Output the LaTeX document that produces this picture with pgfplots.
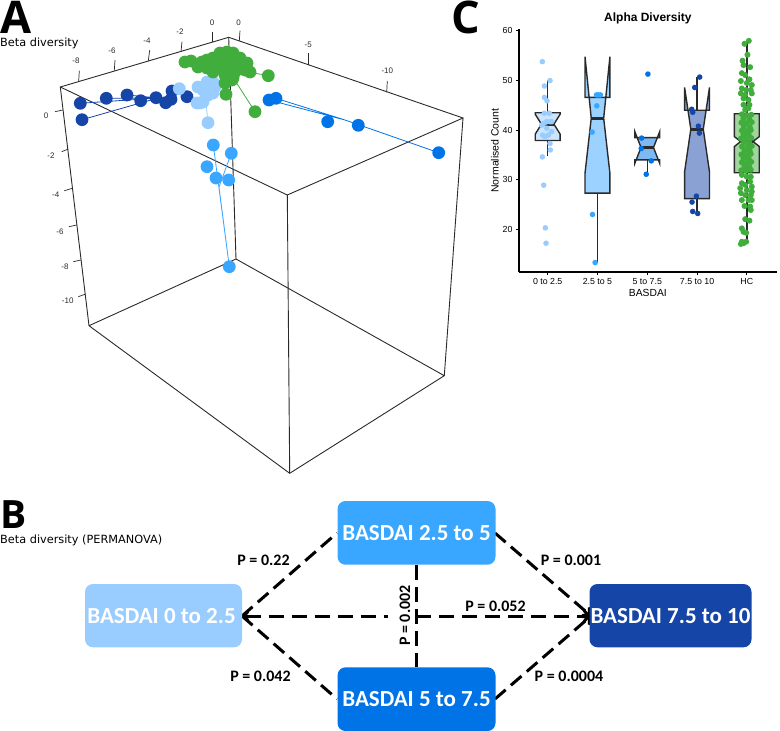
\documentclass[border=0pt]{standalone}
\usepackage{fontspec}
\setmainfont{Liberation Sans}
\newfontfamily\dvfont{DejaVu Sans}
\newfontfamily\calfont{Carlito}
\newfontfamily\opfont{Open Sans}
\usepackage{pgfplots}
\pgfplotsset{compat=1.18}
\usetikzlibrary{arrows.meta}
\definecolor{g1}{HTML}{99CCFF}
\definecolor{g2}{HTML}{39A6FF}
\definecolor{g3}{HTML}{0073E6}
\definecolor{g4}{HTML}{1645A8}
\definecolor{hc}{HTML}{41AD3C}
\definecolor{ln}{HTML}{2A2A2A}
\newcommand{\fs}[1]{\fontsize{#1}{#1}\selectfont}
\pgfplotsset{pts/.style={only marks,mark=*,mark options={solid,fill=#1,draw opacity=0}}}
% panel A points and lines are in picture pixels (y down), panel C in data units
\pgfplotstableread{
x y
80.3 103.3
82 119.7
106.3 98.3
127 95
140.7 100.7
156 97.7
165.7 102.7
171 99.3
172 91
187 96.7
}\adark
\pgfplotstableread{
x y
179.3 88.7
198 87
207 82
213 82
203 90
213 93
197 103
200 103
203 102
208 95
215 87
208 122.7
}\alight
\pgfplotstableread{
x y
213.3 145
231.3 153.3
207 166.7
216 178
228.7 180
229.3 266.7
}\amid
\pgfplotstableread{
x y
269 100
276 98.3
327.7 121.7
358.3 125.3
438.7 152.7
}\ablue
\pgfplotstableread{
x y
185 62
191 61
202 62
198 67
207 68
213 58
220 53
227 52
233 53
240 58
247 63
250 72
242 68
230 65
220 68
213 72
225 75
233 78
225 83
232 80
217 65
207 60
223 62
237 63
245 70
227 60
235 72
205 64
218 58
268.3 75.7
255 111.7
226 94.3
}\agreen
\pgfplotstableread{
x y
-0.107 53.8
0.047 50.0
-0.067 48.9
-0.067 46.6
-0.013 45.9
0.033 43.4
-0.067 43.4
-0.107 34.6
0.053 36.0
-0.08 28.9
-0.047 20.3
-0.033 17.2
0.047 37.3
0.013 39.0
-0.053 38.7
-0.1 39.0
-0.02 41.7
0.047 41.7
-0.073 41.4
-0.12 41.0
0.08 41.7
0.08 39.7
-0.02 40.4
}\cgone
\pgfplotstableread{
x y
0.98 47.1
1.06 47.1
1.02 47.1
0.987 44.9
0.893 39.6
0.9 23
0.953 13.3
}\cgtwo
\pgfplotstableread{
x y
2.013 51.3
1.887 38.4
2.08 33.8
1.98 31.1
1.88 36.3
}\cgthree
\pgfplotstableread{
x y
3.053 50.7
2.953 48.6
2.893 44.2
2.913 43.6
3.027 40.8
3.047 39.4
2.987 26.7
2.9 25.5
2.913 23.6
3.013 23.2
}\cgfour
\pgfplotstableread{
x y
4.04 58.0
3.953 57.4
4.013 55.2
3.913 54
3.933 53.1
4.067 52.7
3.9 51.5
3.967 51.1
4.053 50.25
3.88 49.9
4 49.5
4.1 49.1
3.9 48.4
3.987 48.1
4.08 48.1
3.88 47.4
3.967 47.1
4.1 47.4
3.933 46.4
4.033 46.1
3.933 45.1
4.053 45.1
3.967 44.1
4.033 44.4
3.9 43.2
4 43
4.09 43.1
3.93 42.3
4.05 42.2
3.89 41.5
3.99 41.4
4.1 41.6
3.94 40.7
4.06 40.6
3.9 39.9
4 39.8
4.08 40
3.93 39.1
4.04 39
3.88 38.3
3.98 38.2
4.09 38.4
3.94 37.5
4.05 37.4
3.9 36.7
4.01 36.6
4.1 36.8
3.95 35.9
4.06 35.8
3.89 35.1
3.99 35
4.08 35.2
3.93 34.3
4.04 34.2
3.9 33.5
4 33.4
4.09 33.6
3.95 32.7
4.05 32.6
3.89 31.9
3.99 31.8
4.08 32
3.9 30.97
4 30.6
4.08 30.6
4.067 29.6
3.9 29.3
3.967 28.95
4.1 28.6
3.867 28.3
4 27.9
4.1 27.6
3.88 27.3
3.967 26.9
4.08 26.9
3.9 25.9
4.033 25.9
4.1 25.9
3.953 24.7
4.067 24.6
4.08 23.9
3.967 22.05
4.053 21.75
3.9 20.2
3.933 19.5
3.987 19.3
3.9 17.5
3.88 17.05
3.987 17.5
3.933 17.2
}\cghc
\begin{document}
\begin{tikzpicture}
\useasboundingbox (0,0) rectangle (780pt,731pt);
\begin{axis}[
  at={(0pt,0pt)},anchor=south west,
  width=780pt,height=731pt,scale only axis,
  hide axis,clip=false,
  xmin=0,xmax=780,ymin=0,ymax=731,y dir=reverse,
]
% A: frame
\addplot[no marks,draw=ln,line width=.9pt] coordinates {(60.3,87) (228.7,37.3) (463,118) (287.3,195) (60.3,87) (89,325.7) (289.7,473.3) (444.3,375.7) (236,259) (89,325.7)};
\addplot[no marks,draw=ln,line width=.9pt] coordinates {(228.7,37.3) (236,259)};
\addplot[no marks,draw=ln,line width=.9pt] coordinates {(287.3,195) (289.7,473.3)};
\addplot[no marks,draw=ln,line width=.9pt] coordinates {(463,118) (444.3,375.7)};
% A: axis ticks
\foreach \a/\b/\c/\d in {78.7/81/79.3/70.7,114.3/70.7/115/60,148.3/61/149.7/50,181/51.7/182/41.7,212.7/42.3/212.7/31.7,239.3/41/240/30.7,308.3/65/308.3/53.3,386.7/92.3/387.3/81,62.7/110/55/111.7,68.3/149/61.7/151.7,72.3/188.3/64.3/190.7,76.7/225/69/226.7,81/260/73.3/261.7,85/294.3/78.3/296.7}{
  \edef\temp{\noexpand\addplot[no marks,draw=ln,line width=.7pt] coordinates {(\a,\b) (\c,\d)};}
  \temp
}
\foreach \a/\b/\t in {76/61/-8,112/51/-6,147/41/-4,180/32/-2,212/23/0,238.7/22.3/0,308.3/45/-5,387.3/71/-10,46/116/0,51/156/-2,55.7/194.3/-4,60/231.7/-6,65/266.7/-8,67.7/300.7/-10}{
  \edef\temp{\noexpand\node[text=ln,font=\noexpand\fs{8}] at (axis cs:\a,\b) {\t};}
  \temp
}
% A: lines to the group centres
\addplot[no marks,draw=g4,line width=.8pt] coordinates {(80.3,103.3) (158,98) (82,119.7) (158,98) (106.3,98.3) (158,98) (127,95) (158,98) (80.3,103.3)};
\addplot[no marks,draw=g1,line width=.8pt] coordinates {(205,92) (208,122.7)};
\addplot[no marks,draw=g2,line width=.8pt] coordinates {(213.3,145) (229.3,266.7) (219,187) (231.3,153.3)};
\addplot[no marks,draw=g3,line width=.8pt] coordinates {(269,100) (345,120) (276,98.3) (345,120) (438.7,152.7)};
\addplot[no marks,draw=hc,line width=.8pt] coordinates {(268.3,75.7) (227,68) (255,111.7)};
% A: points
\addplot[pts=g4,mark size=6.4pt] table {\adark};
\addplot[pts=g1,mark size=6.4pt] table {\alight};
\addplot[pts=g2,mark size=6.4pt] table {\amid};
\addplot[pts=g3,mark size=6.4pt] table {\ablue};
\addplot[pts=hc,mark size=6.4pt] table {\agreen};
% panel letters and captions
\node[anchor=base west,inner sep=0pt,font=\opfont\bfseries\fs{45}] at (axis cs:0,33) {A};
\node[anchor=base west,inner sep=0pt,font=\opfont\bfseries\fs{39}] at (axis cs:0,528) {B};
\node[anchor=base west,inner sep=0pt,font=\opfont\bfseries\fs{45}] at (axis cs:451,33) {C};
\node[anchor=west,inner sep=0pt,font=\dvfont\fs{11.3}] at (axis cs:0,43) {Beta diversity};
\node[anchor=west,inner sep=0pt,font=\dvfont\fs{11.3}] at (axis cs:0,540) {Beta diversity (PERMANOVA)};
% B: dashed links
\addplot[no marks,draw=black,line width=3pt,dash pattern=on 14pt off 7pt] coordinates {(242,616) (337,533)};
\addplot[no marks,draw=black,line width=3pt,dash pattern=on 14pt off 7pt] coordinates {(242,616) (337,699)};
\addplot[no marks,draw=black,line width=3pt,dash pattern=on 14pt off 7pt,-{Straight Barb[length=5pt,width=11pt]}] coordinates {(495,533) (591,616)};
\addplot[no marks,draw=black,line width=3pt,dash pattern=on 14pt off 7pt,-{Straight Barb[length=5pt,width=11pt]}] coordinates {(495,699) (591,616)};
\addplot[no marks,draw=black,line width=3pt,dash pattern=on 15pt off 8pt,{Straight Barb[length=4pt,width=9pt]}-] coordinates {(242,616) (388,616)};
\addplot[no marks,draw=black,line width=3pt,dash pattern=on 15pt off 8pt,-{Straight Barb[length=5pt,width=11pt]}] coordinates {(416,616) (591,616)};
\addplot[no marks,draw=black,line width=3pt,dash pattern=on 15pt off 7pt] coordinates {(416,565) (416,667)};
\node[rotate=90,inner sep=1pt,font=\calfont\bfseries\fs{16}] at (axis cs:405,615.5) {P = 0.002};
% B: boxes
\fill[g2,rounded corners=8pt] (axis cs:337.5,501) rectangle (axis cs:495.5,564.7);
\fill[g1,rounded corners=8pt] (axis cs:85,584) rectangle (axis cs:242,647.3);
\fill[g4,rounded corners=8pt] (axis cs:589.5,584) rectangle (axis cs:751.5,647.3);
\fill[g3,rounded corners=8pt] (axis cs:337.5,667.3) rectangle (axis cs:495.5,731);
\node[text=white,font=\calfont\bfseries\fs{23}] at (axis cs:416.5,533) {BASDAI 2.5 to 5};
\node[text=white,font=\calfont\bfseries\fs{23}] at (axis cs:161.5,616) {BASDAI 0 to 2.5};
\node[text=white,font=\calfont\bfseries\fs{23}] at (axis cs:670.5,616) {BASDAI 7.5 to 10};
\node[text=white,font=\calfont\bfseries\fs{23}] at (axis cs:416.5,699) {BASDAI 5 to 7.5};
% B: P values
\node[font=\calfont\bfseries\fs{16}] at (axis cs:263.5,560.7) {P = 0.22};
\node[font=\calfont\bfseries\fs{16}] at (axis cs:571,560.7) {P = 0.001};
\node[font=\calfont\bfseries\fs{16}] at (axis cs:495.5,606.7) {P = 0.052};
\node[font=\calfont\bfseries\fs{16}] at (axis cs:260.5,676) {P = 0.042};
\node[font=\calfont\bfseries\fs{16}] at (axis cs:569,676) {P = 0.0004};
\end{axis}

% C: alpha diversity
\begin{axis}[
  at={(519pt,459pt)},anchor=south west,
  width=257.7pt,height=242.7pt,scale only axis,
  clip=false,
  xmin=-0.576,xmax=4.6,ymin=11.4,ymax=60.33,
  axis lines*=left,
  axis line style={line width=1.5pt,black,-},
  xtick={0,1,2,3,4},
  xticklabels={0 to 2.5,2.5 to 5,5 to 7.5,7.5 to 10,HC},
  ytick={20,30,40,50,60},
  tick style={black,line width=.9pt},
  major tick length=3pt,
  tick align=outside,
  /pgf/number format/assume math mode=true,
  ticklabel style={font=\fs{8.8}},
  xticklabel style={yshift=0pt},
  xlabel={BASDAI},
  ylabel={Normalised Count},
  xlabel style={font=\fs{10.3},yshift=2.5pt},
  ylabel style={font=\fs{10.5},yshift=-3pt},
  title={\textbf{Alpha Diversity}},
  title style={font=\fs{12},yshift=-4pt},
]
\addplot[pts=g1,mark size=2.8pt] table {\cgone};
\addplot[pts=g2,mark size=2.8pt] table {\cgtwo};
\addplot[pts=g3,mark size=2.8pt] table {\cgthree};
\addplot[pts=g4,mark size=2.8pt] table {\cgfour};
\addplot[pts=hc,mark size=3pt] table {\cghc};
% whiskers
\addplot[no marks,draw=ln,line width=1.4pt] coordinates {(0,43.5) (0,50.1)};
\addplot[no marks,draw=ln,line width=1.4pt] coordinates {(0,37.9) (0,34.8)};
\addplot[no marks,draw=ln,line width=1.4pt] coordinates {(1,46.6) (1,47.4)};
\addplot[no marks,draw=ln,line width=1.4pt] coordinates {(1,27.3) (1,13.3)};
\addplot[no marks,draw=ln,line width=1.4pt] coordinates {(2,34) (2,31.1)};
\addplot[no marks,draw=ln,line width=1.4pt] coordinates {(3,44) (3,50.7)};
\addplot[no marks,draw=ln,line width=1.4pt] coordinates {(3,26.2) (3,23.2)};
\addplot[no marks,draw=ln,line width=1.4pt] coordinates {(4,43.3) (4,57.8)};
\addplot[no marks,draw=ln,line width=1.4pt] coordinates {(4,31.4) (4,17.5)};
% notched boxes: q3, notch up, median, notch down, q1
\addplot[draw=ln,line width=1.4pt,fill=g1,fill opacity=.5,draw opacity=1] coordinates {(-.25,43.5) (-.25,43.2) (-.125,41.2) (-.25,39.2) (-.25,37.9) (.25,37.9) (.25,39.2) (.125,41.2) (.25,43.2) (.25,43.5)} -- cycle;
\addplot[draw=ln,line width=1.4pt,fill=g2,fill opacity=.5,draw opacity=1] coordinates {(.75,46.6) (.75,54.8) (.875,42.4) (.75,31.3) (.75,27.3) (1.25,27.3) (1.25,31.3) (1.125,42.4) (1.25,54.8) (1.25,46.6)} -- cycle;
\addplot[draw=ln,line width=1.4pt,fill=g3,fill opacity=.5,draw opacity=1] coordinates {(1.75,38.5) (1.75,39.7) (1.875,36.5) (1.75,33.3) (1.75,34) (2.25,34) (2.25,33.3) (2.125,36.5) (2.25,39.7) (2.25,38.5)} -- cycle;
\addplot[draw=ln,line width=1.4pt,fill=g4,fill opacity=.5,draw opacity=1] coordinates {(2.75,44) (2.75,48.6) (2.875,40.2) (2.75,31.6) (2.75,26.2) (3.25,26.2) (3.25,31.6) (3.125,40.2) (3.25,48.6) (3.25,44)} -- cycle;
\addplot[draw=ln,line width=1.4pt,fill=hc,fill opacity=.5,draw opacity=1] coordinates {(3.75,43.3) (3.75,38.7) (3.875,37.7) (3.75,36.7) (3.75,31.4) (4.25,31.4) (4.25,36.7) (4.125,37.7) (4.25,38.7) (4.25,43.3)} -- cycle;
% medians
\addplot[no marks,draw=ln,line width=2.8pt] coordinates {(-.125,41.2) (.125,41.2)};
\addplot[no marks,draw=ln,line width=2.8pt] coordinates {(.875,42.4) (1.125,42.4)};
\addplot[no marks,draw=ln,line width=2.8pt] coordinates {(1.875,36.5) (2.125,36.5)};
\addplot[no marks,draw=ln,line width=2.8pt] coordinates {(2.875,40.2) (3.125,40.2)};
\addplot[no marks,draw=ln,line width=2.8pt] coordinates {(3.875,37.7) (4.125,37.7)};
\end{axis}
\end{tikzpicture}
\end{document}
